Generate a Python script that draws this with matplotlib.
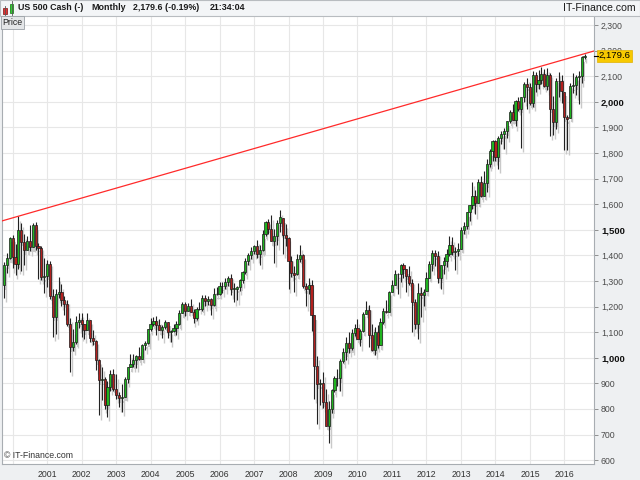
import numpy as np
import matplotlib
matplotlib.use("Agg")
import matplotlib.pyplot as plt
from matplotlib import transforms
from matplotlib.patches import Rectangle

plt.rcParams['font.family'] = ['Liberation Sans', 'DejaVu Sans']

# monthly OHLC, US 500 Cash, Oct 1999 .. Aug 2016
start_year, start_month = 1999, 10
opens = [
    1282.7, 1362.9, 1389.0,
    1469.3, 1394.5, 1366.4, 1498.6, 1452.4, 1420.6, 1454.6, 1430.8, 1517.7, 1436.5, 1429.4, 1315.2,
    1320.3, 1366.0, 1239.9, 1160.3, 1249.5, 1255.8, 1224.4, 1211.2, 1133.6, 1040.9, 1059.8, 1139.5,
    1148.1, 1130.2, 1106.7, 1147.4, 1076.9, 1067.1, 989.8, 911.6, 916.1, 815.3, 885.8, 936.3,
    879.8, 855.7, 841.2, 848.2, 916.9, 963.6, 974.5, 990.3, 1008.0, 996.0, 1050.7, 1058.2,
    1111.9, 1131.1, 1144.9, 1126.2, 1107.3, 1120.7, 1140.8, 1101.7, 1104.2, 1114.6, 1130.2, 1173.8,
    1211.9, 1181.3, 1203.6, 1180.6, 1156.9, 1191.5, 1191.3, 1234.2, 1220.3, 1228.8, 1207.0, 1249.5,
    1248.3, 1280.1, 1280.7, 1294.9, 1310.6, 1270.1, 1270.2, 1276.7, 1303.8, 1335.8, 1377.9, 1400.6,
    1418.3, 1438.2, 1406.8, 1420.9, 1482.4, 1530.6, 1503.4, 1455.3, 1474.0, 1526.8, 1545.8, 1481.1,
    1468.4, 1378.6, 1330.6, 1326.4, 1385.6, 1400.4, 1280.0, 1267.4, 1282.8, 1166.4, 968.8, 896.2,
    903.3, 825.9, 735.1, 797.9, 872.8, 919.1, 919.3, 987.5, 1020.6, 1057.1, 1036.2, 1095.6,
    1115.1, 1073.9, 1104.5, 1171.2, 1186.7, 1089.4, 1030.7, 1101.6, 1049.3, 1141.2, 1183.3, 1180.6,
    1257.6, 1286.1, 1327.2, 1325.8, 1363.6, 1345.2, 1320.6, 1292.3, 1218.9, 1131.4, 1253.3, 1247.0,
    1258.9, 1312.4, 1365.7, 1408.5, 1397.9, 1310.3, 1362.2, 1379.3, 1406.6, 1440.7, 1412.2, 1416.2,
    1426.2, 1498.1, 1514.7, 1569.2, 1597.6, 1630.7, 1606.3, 1685.7, 1633.0, 1681.6, 1756.5, 1805.8,
    1848.4, 1782.6, 1859.5, 1872.3, 1883.9, 1923.6, 1960.2, 1930.7, 2003.4, 1972.3, 2018.1, 2067.6,
    2058.9, 1995.0, 2104.5, 2067.9, 2085.5, 2107.4, 2063.1, 2103.8, 1972.2, 1920.0, 2079.4, 2080.4,
    2038.2, 1940.2, 1937.1, 2059.7, 2065.3, 2096.9, 2098.9, 2173.6,
]
highs = [
    1373.2, 1410.1, 1473.4,
    1478.0, 1444.6, 1552.9, 1527.2, 1481.5, 1474.6, 1517.3, 1525.2, 1530.1, 1448.4, 1438.5, 1389.1,
    1383.4, 1376.7, 1267.4, 1269.3, 1316.0, 1286.6, 1239.8, 1226.3, 1155.4, 1110.6, 1163.4, 1173.0,
    1176.6, 1130.2, 1173.0, 1147.8, 1106.6, 1070.2, 994.5, 965.0, 924.0, 907.4, 951.6, 954.3,
    935.1, 864.6, 895.9, 924.2, 965.4, 1015.3, 1015.4, 1011.0, 1040.3, 1053.8, 1063.7, 1112.6,
    1155.4, 1159.0, 1163.2, 1150.6, 1127.7, 1146.3, 1140.8, 1109.7, 1131.5, 1142.1, 1188.5, 1217.3,
    1217.8, 1212.4, 1229.1, 1192.2, 1199.6, 1219.6, 1245.2, 1245.9, 1243.1, 1233.3, 1270.6, 1275.8,
    1294.9, 1297.6, 1310.9, 1318.2, 1326.7, 1290.7, 1280.4, 1306.7, 1340.3, 1389.5, 1407.9, 1431.8,
    1441.6, 1461.6, 1438.9, 1498.0, 1535.6, 1540.6, 1555.9, 1503.9, 1538.7, 1576.1, 1545.8, 1523.6,
    1471.8, 1396.0, 1359.7, 1404.6, 1440.2, 1404.1, 1292.2, 1313.2, 1303.0, 1167.0, 1007.5, 918.9,
    943.9, 877.9, 833.0, 878.2, 930.2, 956.2, 996.7, 1039.5, 1080.2, 1101.4, 1113.7, 1130.4,
    1150.5, 1112.4, 1180.2, 1219.8, 1205.1, 1131.2, 1121.0, 1129.2, 1157.2, 1196.1, 1227.1, 1262.6,
    1302.7, 1344.1, 1332.3, 1364.6, 1370.6, 1345.2, 1356.5, 1307.4, 1229.3, 1292.7, 1277.6, 1269.4,
    1333.5, 1378.0, 1419.2, 1422.4, 1415.3, 1363.5, 1392.2, 1426.7, 1474.5, 1471.0, 1434.3, 1448.0,
    1509.9, 1530.9, 1570.3, 1597.6, 1687.2, 1654.2, 1698.8, 1709.7, 1730.0, 1775.2, 1813.6, 1849.4,
    1850.8, 1867.9, 1884.0, 1897.3, 1924.0, 1968.2, 1991.4, 2005.0, 2019.3, 2018.2, 2075.8, 2093.6,
    2072.4, 2119.6, 2117.5, 2125.9, 2134.7, 2129.9, 2132.8, 2112.7, 2021.0, 2094.3, 2116.5, 2104.3,
    2038.2, 1947.2, 2072.2, 2111.1, 2103.5, 2120.6, 2177.1, 2187.7,
]
lows = [
    1233.7, 1333.0, 1386.8,
    1350.1, 1325.1, 1346.6, 1339.4, 1361.1, 1420.0, 1416.5, 1431.0, 1419.4, 1305.8, 1303.8, 1254.1,
    1274.6, 1228.3, 1081.2, 1091.9, 1232.0, 1203.0, 1165.5, 1124.9, 944.8, 1026.8, 1054.3, 1114.9,
    1081.7, 1074.4, 1106.7, 1063.5, 1049.0, 952.9, 775.7, 833.4, 800.2, 768.6, 872.1, 871.8,
    840.3, 806.3, 788.9, 847.9, 902.8, 963.6, 962.1, 960.8, 990.4, 996.0, 1031.2, 1053.4,
    1105.1, 1124.4, 1087.2, 1107.2, 1076.3, 1113.3, 1078.8, 1060.7, 1101.3, 1090.2, 1127.6, 1173.8,
    1163.8, 1180.9, 1176.9, 1136.2, 1146.2, 1188.3, 1183.6, 1201.1, 1205.4, 1168.2, 1201.1, 1246.6,
    1245.7, 1253.6, 1268.4, 1280.7, 1245.3, 1219.3, 1224.5, 1261.3, 1290.9, 1327.1, 1361.0, 1385.9,
    1404.0, 1389.1, 1364.0, 1416.4, 1476.7, 1484.2, 1454.3, 1370.6, 1439.3, 1489.6, 1406.1, 1435.7,
    1270.1, 1316.8, 1257.0, 1324.4, 1373.1, 1272.0, 1200.4, 1248.6, 1106.4, 839.8, 741.0, 815.7,
    804.2, 734.5, 666.8, 783.3, 866.1, 888.9, 869.3, 978.5, 992.0, 1020.2, 1029.4, 1085.9,
    1071.6, 1044.5, 1101.4, 1170.7, 1040.8, 1028.3, 1010.9, 1039.7, 1049.3, 1131.9, 1173.0, 1180.6,
    1257.6, 1286.1, 1249.1, 1294.7, 1311.8, 1258.1, 1282.9, 1101.5, 1114.2, 1074.8, 1158.7, 1202.4,
    1258.9, 1312.4, 1340.0, 1357.4, 1292.0, 1266.7, 1325.4, 1354.7, 1396.6, 1403.3, 1343.4, 1398.1,
    1426.2, 1485.0, 1501.5, 1536.0, 1581.3, 1560.3, 1604.6, 1627.5, 1633.0, 1646.5, 1746.2, 1768.0,
    1770.5, 1737.9, 1834.4, 1814.4, 1859.8, 1916.0, 1930.7, 1904.8, 1964.0, 1820.7, 2001.0, 1972.6,
    1988.1, 1980.9, 2039.7, 2048.4, 2067.9, 2056.3, 2044.0, 1867.0, 1871.9, 1893.7, 2019.4, 1993.3,
    1812.3, 1810.1, 1937.1, 2033.8, 2025.9, 1991.7, 2074.0, 2168.5,
]
closes = [
    1362.9, 1389.0, 1469.3,
    1394.5, 1366.4, 1498.6, 1452.4, 1420.6, 1454.6, 1430.8, 1517.7, 1436.5, 1429.4, 1315.2, 1320.3,
    1366.0, 1239.9, 1160.3, 1249.5, 1255.8, 1224.4, 1211.2, 1133.6, 1040.9, 1059.8, 1139.5, 1148.1,
    1130.2, 1106.7, 1147.4, 1076.9, 1067.1, 989.8, 911.6, 916.1, 815.3, 885.8, 936.3, 879.8,
    855.7, 841.2, 848.2, 916.9, 963.6, 974.5, 990.3, 1008.0, 996.0, 1050.7, 1058.2, 1111.9,
    1131.1, 1144.9, 1126.2, 1107.3, 1120.7, 1140.8, 1101.7, 1104.2, 1114.6, 1130.2, 1173.8, 1211.9,
    1181.3, 1203.6, 1180.6, 1156.9, 1191.5, 1191.3, 1234.2, 1220.3, 1228.8, 1207.0, 1249.5, 1248.3,
    1280.1, 1280.7, 1294.9, 1310.6, 1270.1, 1270.2, 1276.7, 1303.8, 1335.8, 1377.9, 1400.6, 1418.3,
    1438.2, 1406.8, 1420.9, 1482.4, 1530.6, 1503.4, 1455.3, 1474.0, 1526.8, 1549.4, 1481.1, 1468.4,
    1378.6, 1330.6, 1322.7, 1385.6, 1400.4, 1280.0, 1267.4, 1282.8, 1166.4, 968.8, 896.2, 903.3,
    825.9, 735.1, 797.9, 872.8, 919.1, 919.3, 987.5, 1020.6, 1057.1, 1036.2, 1095.6, 1115.1,
    1073.9, 1104.5, 1169.4, 1186.7, 1089.4, 1030.7, 1101.6, 1049.3, 1141.2, 1183.3, 1180.6, 1257.6,
    1286.1, 1327.2, 1325.8, 1363.6, 1345.2, 1320.6, 1292.3, 1218.9, 1131.4, 1253.3, 1247.0, 1257.6,
    1312.4, 1365.7, 1408.5, 1397.9, 1310.3, 1362.2, 1379.3, 1406.6, 1440.7, 1412.2, 1416.2, 1426.2,
    1498.1, 1514.7, 1569.2, 1597.6, 1630.7, 1606.3, 1685.7, 1633.0, 1681.6, 1756.5, 1805.8, 1848.4,
    1782.6, 1859.5, 1872.3, 1883.9, 1923.6, 1960.2, 1930.7, 2003.4, 1972.3, 2018.1, 2067.6, 2058.9,
    1995.0, 2104.5, 2067.9, 2085.5, 2107.4, 2063.1, 2103.8, 1972.2, 1920.0, 2079.4, 2080.4, 2043.9,
    1940.2, 1932.2, 2059.7, 2065.3, 2096.9, 2098.9, 2173.6, 2179.6,
]

# trend line through the 2000 high and the current high
trend_dates = [(2000, 3), (2016, 8)]
trend_values = [1552.9, 2187.7]

year_labels = list(range(2001, 2017))
price_ticks = list(range(600, 2400, 100))
bold_ticks = [1000, 1500, 2000]
last_label = "2,179.6"
header_parts = ["US 500 Cash (-)", "Monthly", "2,179.6 (-0.19%)", "21:34:04"]


def month_x(year, month):
    # months counted from Jan 2001
    return (year - 2001) * 12 + (month - 1)


o = np.array(opens)
h = np.array(highs)
l = np.array(lows)
c = np.array(closes)
x = month_x(start_year, start_month) + np.arange(len(c))
up = c >= o

fig = plt.figure(figsize=(6.4, 4.8), dpi=100, facecolor='#eef0f2')
ax = fig.add_axes([2 / 640, 16 / 480, 592 / 640, 448 / 480])
ax.set_facecolor('white')

# header strip
fig.patches.append(Rectangle((0, 464 / 480), 1, 16 / 480, transform=fig.transFigure,
                             facecolor='#f3f5f7', edgecolor='#b8bcc0', lw=0.8, zorder=0))

# grid
for v in price_ticks:
    ax.axhline(v, color='#e7e7e7', lw=0.8, zorder=0)
for yr in range(2000, 2017):
    ax.axvline(month_x(yr, 1), color='#e7e7e7', lw=0.8, zorder=0)

# candle shadows
shadow = transforms.offset_copy(ax.transData, fig=fig, x=1.8, y=-4.5, units='dots')
ax.vlines(x, l, h, color='#c9c9c9', lw=1.0, transform=shadow, zorder=1)
ax.bar(x, np.abs(c - o), bottom=np.minimum(o, c), width=0.75, color='#c9c9c9',
       transform=shadow, zorder=1)

# candles
ax.vlines(x, l, h, color='#222222', lw=0.8, zorder=2)
body_col = np.where(up, '#1fb41f', '#b3201e')
ax.bar(x, np.maximum(np.abs(c - o), 1.0), bottom=np.minimum(o, c), width=0.75,
       color=body_col, edgecolor='#1a1a1a', lw=0.5, zorder=3)

# trend line extended over the whole axis
tx = [month_x(*d) for d in trend_dates]
slope = (trend_values[1] - trend_values[0]) / (tx[1] - tx[0])
x0, x1 = -15.7, 190.3
ax.plot([x0, x1], [trend_values[0] + slope * (x0 - tx[0]), trend_values[0] + slope * (x1 - tx[0])],
        color='#ff2a2a', lw=0.9, zorder=4)

ax.set_xlim(x0, x1)
ax.set_ylim(585, 2335)

# axes styling
ax.spines['top'].set_visible(False)
for s in ['left', 'right', 'bottom']:
    ax.spines[s].set_color('#a8adb2')
    ax.spines[s].set_linewidth(0.8)

ax.yaxis.tick_right()
ax.set_yticks(price_ticks)
ax.set_yticklabels([f"{v:,}" for v in price_ticks])
ax.tick_params(axis='y', length=3, width=0.6, color='#808080', pad=2,
               labelsize=6.3, labelcolor='#4a4a4a')
for lab, v in zip(ax.get_yticklabels(), price_ticks):
    if v in bold_ticks:
        lab.set_fontweight('bold')
        lab.set_color('#111111')
        lab.set_fontsize(6.8)

ax.set_xticks([month_x(yr, 1) for yr in year_labels])
ax.set_xticklabels([str(yr) for yr in year_labels])
ax.tick_params(axis='x', length=0, pad=4, labelsize=6.3, labelcolor='#333333')

# current price marker
blend = transforms.blended_transform_factory(ax.transAxes, ax.transData)
ax.text(1.008, c[-1], last_label, transform=blend, fontsize=6.8, color='black',
        va='center', ha='left', clip_on=False, zorder=6,
        bbox=dict(boxstyle='square,pad=0.15', facecolor='#f7c900', edgecolor='#e0b000', lw=0.5))
ax.plot([1.0, 1.007], [c[-1], c[-1]], transform=blend, color='black', lw=0.8,
        clip_on=False, zorder=6)

# texts
ax.text(0.004, 0.008, "© IT-Finance.com", transform=ax.transAxes, fontsize=6.3,
        color='#333333', va='bottom', ha='left')
fig.text(2.5 / 640, (480 - 22.5) / 480, "Price", fontsize=6.3, color='#222222',
         va='center', ha='left',
         bbox=dict(boxstyle='square,pad=0.2', facecolor='#e4e6e8', edgecolor='#9aa0a6', lw=0.6))

hy = (480 - 8) / 480
for px, txt in zip([18, 91, 133, 210], header_parts):
    fig.text(px / 640, hy, txt, fontsize=6.4, fontweight='bold', color='#1a1a1a', va='center')
fig.text(636 / 640, hy, "IT-Finance.com", fontsize=7.6, color='#1a1a1a', va='center', ha='right')

# small candle icon in header
fig.patches.append(Rectangle((3 / 640, (480 - 14) / 480), 4 / 640, 6 / 480,
                             transform=fig.transFigure,
                             facecolor='#e03030', edgecolor='#801010', lw=0.5))
fig.patches.append(Rectangle((10 / 640, (480 - 13) / 480), 3 / 640, 9 / 480,
                             transform=fig.transFigure,
                             facecolor='#30d030', edgecolor='#107010', lw=0.5))
fig.lines.append(plt.Line2D([5 / 640, 5 / 640], [(480 - 15) / 480, (480 - 6) / 480],
                            transform=fig.transFigure, color='#555555', lw=0.6))
fig.lines.append(plt.Line2D([11.5 / 640, 11.5 / 640], [(480 - 15) / 480, (480 - 1) / 480],
                            transform=fig.transFigure, color='#555555', lw=0.6))

fig.savefig('out.png', dpi=100, facecolor=fig.get_facecolor())
